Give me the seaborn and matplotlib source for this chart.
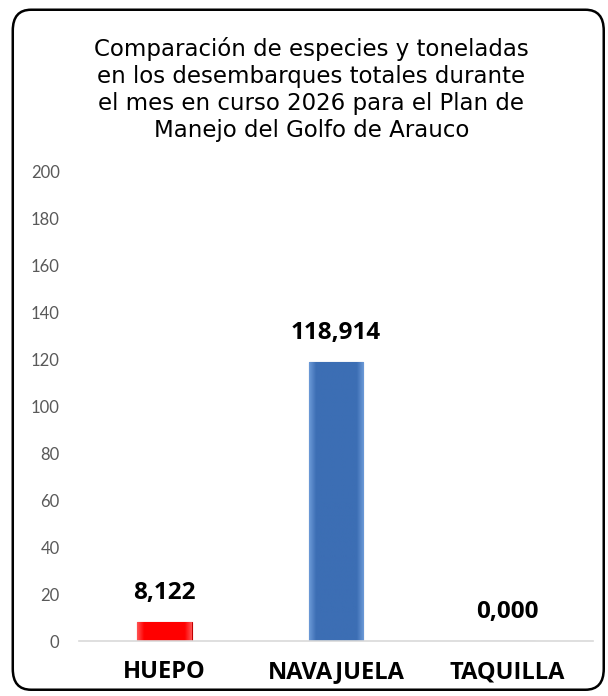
import numpy as np
import pandas as pd
import matplotlib
matplotlib.use("Agg")
import matplotlib.pyplot as plt
import seaborn as sns
from matplotlib.patches import FancyBboxPatch
from matplotlib.colors import LinearSegmentedColormap

# data
especies = ["HUEPO", "NAVAJUELA", "TAQUILLA"]
toneladas = [8.122, 118.914, 0.000]
colores = ["#FF0000", "#3C6EB4", "#3C6EB4"]
claros = ["#FF5050", "#6A98D6", "#6A98D6"]
oscuros = ["#C00000", "#2A5590", "#2A5590"]
titulo = ("Comparación de especies y toneladas\n"
          "en los desembarques totales durante\n"
          "el mes en curso 2026 para el Plan de\n"
          "Manejo del Golfo de Arauco")

sns.set_theme(style="white")
plt.rcParams['font.family'] = ['Lato', 'DejaVu Sans']

df = pd.DataFrame({"especie": especies, "toneladas": toneladas})

fig = plt.figure(figsize=(6.08, 6.96), dpi=100)
ax = fig.add_axes([0.130, 0.079, 0.845, 0.674])

sns.barplot(data=df, x="especie", y="toneladas", hue="especie",
            palette=colores, width=0.32, legend=False, ax=ax,
            edgecolor="none", saturation=1)

# bevel-like shading: light edges, solid middle
grad = np.linspace(0, 1, 60)
perfil = np.clip(np.minimum(grad, 1 - grad) * 8, 0, 1)
for bar, c, cl, co in zip(ax.patches, colores, claros, oscuros):
    bar.set_edgecolor(co)
    bar.set_linewidth(0.8)
    if bar.get_height() <= 0:
        continue
    cmap = LinearSegmentedColormap.from_list("b", [cl, c])
    x0, y0 = bar.get_x(), bar.get_y()
    w, h = bar.get_width(), bar.get_height()
    img = ax.imshow(perfil[np.newaxis, :], cmap=cmap, aspect="auto",
                    extent=(x0, x0 + w, y0, y0 + h), zorder=bar.get_zorder() + 0.1,
                    interpolation="bilinear", vmin=0, vmax=1)
    img.set_clip_path(bar)

for i, v in enumerate(toneladas):
    ax.annotate(f"{v:.3f}".replace(".", ","), (i, v), xytext=(0, 21),
                textcoords="offset points", ha="center", va="center",
                fontsize=17.5, fontweight="bold", family="Open Sans",
                color="black")

ax.set_ylim(0, 200)
ax.set_yticks(np.arange(0, 201, 20))
ax.set_xlim(-0.5, 2.5)
ax.set_xlabel("")
ax.set_ylabel("")
ax.tick_params(axis="y", labelsize=12, labelcolor="#595959", pad=14, length=0)
ax.tick_params(axis="x", labelsize=17, labelcolor="black", pad=14, length=0)
for lab in ax.get_xticklabels():
    lab.set_fontweight("bold")
    lab.set_family("Open Sans")

for s in ["top", "right", "left"]:
    ax.spines[s].set_visible(False)
ax.spines["bottom"].set_color("#D9D9D9")
ax.spines["bottom"].set_linewidth(1.2)

fig.text(0.512, 0.872, titulo, ha="center", va="center", fontsize=16.5,
         family="DejaVu Sans", linespacing=1.22, color="black")

borde = FancyBboxPatch((0.021, 0.009), 0.972, 0.977,
                       boxstyle="round,pad=0,rounding_size=0.03",
                       transform=fig.transFigure, fill=False,
                       edgecolor="black", linewidth=1.8)
fig.patches.append(borde)

fig.savefig("out.png", dpi=100)
